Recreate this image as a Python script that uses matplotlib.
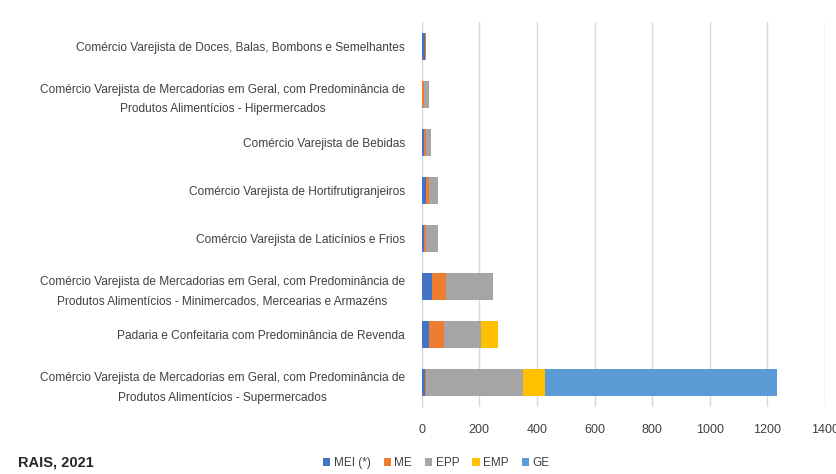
import matplotlib
matplotlib.use("Agg")
import matplotlib.pyplot as plt
import numpy as np

categories = [
    "Comércio Varejista de Mercadorias em Geral, com Predominância de\nProdutos Alimentícios - Supermercados",
    "Padaria e Confeitaria com Predominância de Revenda",
    "Comércio Varejista de Mercadorias em Geral, com Predominância de\nProdutos Alimentícios - Minimercados, Mercearias e Armazéns",
    "Comércio Varejista de Laticínios e Frios",
    "Comércio Varejista de Hortifrutigranjeiros",
    "Comércio Varejista de Bebidas",
    "Comércio Varejista de Mercadorias em Geral, com Predominância de\nProdutos Alimentícios - Hipermercados",
    "Comércio Varejista de Doces, Balas, Bombons e Semelhantes",
]
series_names = ["MEI (*)", "ME", "EPP", "EMP", "GE"]
mei = [12, 25, 35, 9, 14, 8, 1, 10]
me = [3, 54, 50, 7, 12, 8, 6, 6]
epp = [336, 127, 164, 42, 30, 16, 18, 0]
emp = [78, 58, 0, 0, 0, 0, 0, 0]
ge = [806, 0, 0, 0, 0, 0, 0, 0]
xticks = [0, 200, 400, 600, 800, 1000, 1200, 1400]
colors = ["#4472C4", "#ED7D31", "#A5A5A5", "#FFC000", "#5B9BD5"]

plt.rcParams['font.family'] = ['Liberation Sans Narrow', 'Liberation Sans', 'DejaVu Sans']

fig = plt.figure(figsize=(8.36, 4.74), dpi=100)
ax = fig.add_axes([0.5044, 0.1414, 0.4824, 0.8122])

y = np.arange(len(categories))
left = np.zeros(len(categories))
for name, vals, c in zip(series_names, [mei, me, epp, emp, ge], colors):
    ax.barh(y, vals, left=left, height=0.56, color=c, label=name, zorder=3)
    left += np.array(vals)

ax.set_xlim(0, 1400)
ax.set_ylim(-0.5, len(categories) - 0.5)
ax.set_xticks(xticks)
ax.set_xticklabels([str(t) for t in xticks], fontsize=9, color="#404040")
ax.set_yticks(y)
ax.set_yticklabels(categories, fontsize=8.6, color="#404040", linespacing=1.8,
                   multialignment="center")
ax.tick_params(axis="both", length=0)
ax.tick_params(axis="y", pad=12)
ax.tick_params(axis="x", pad=12)
ax.grid(axis="x", color="#d9d9d9", linewidth=1, zorder=0)
for s in ["top", "right", "bottom"]:
    ax.spines[s].set_visible(False)
ax.spines["left"].set_color("#d9d9d9")

leg = fig.legend(loc="center", bbox_to_anchor=(0.522, 0.023), ncol=5, frameon=False,
                 fontsize=8.5, handlelength=0.6, handleheight=0.6, handletextpad=0.3,
                 columnspacing=1.1, labelcolor="#404040")

fig.text(0.021, 0.025, "RAIS, 2021", fontsize=10.5, fontweight="bold", color="#262626",
         va="center", ha="left")

fig.savefig("out.png", dpi=100)
